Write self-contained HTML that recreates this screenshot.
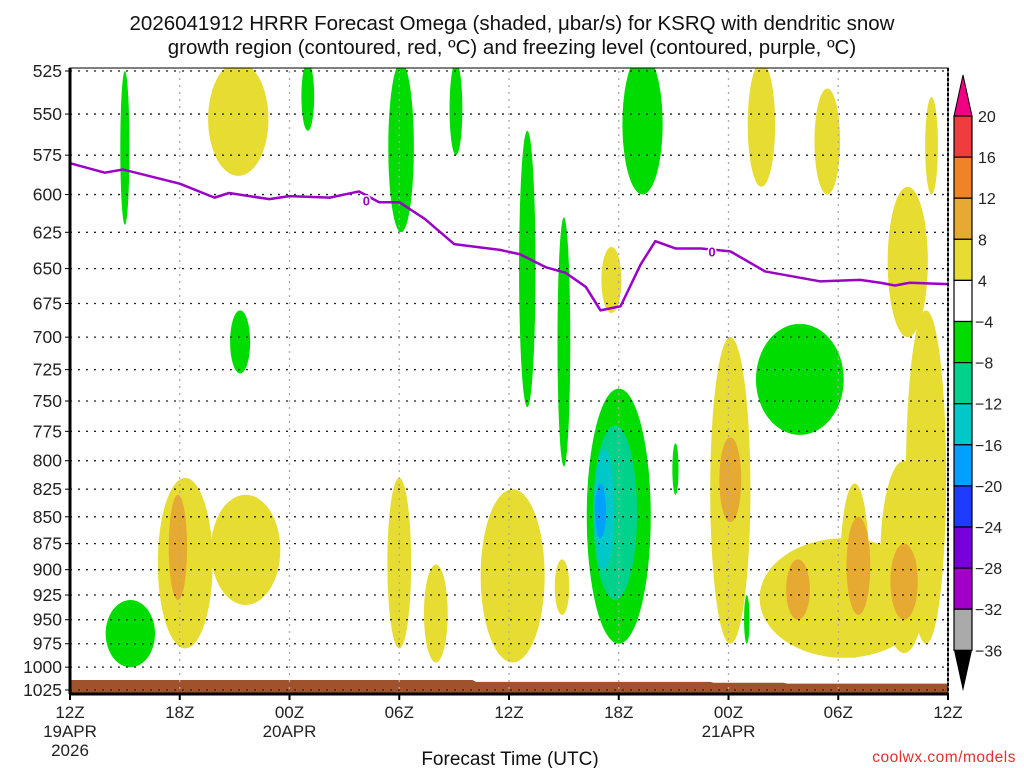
<!DOCTYPE html>
<html><head><meta charset="utf-8"><style>
html,body{margin:0;padding:0;background:#fff;width:1024px;height:768px;overflow:hidden}
svg text{font-family:"Liberation Sans",sans-serif}
</style></head><body>
<svg id="c" width="1024" height="768" viewBox="0 0 1024 768">
<text x="512" y="30" text-anchor="middle" font-size="20.5" fill="#111">2026041912 HRRR Forecast Omega (shaded, μbar/s) for KSRQ with dendritic snow</text>
<text x="512" y="54" text-anchor="middle" font-size="20.5" fill="#111">growth region (contoured, red, ºC) and freezing level (contoured, purple, ºC)</text>
<g id="fills"></g>
<g id="grid"></g>
<g id="frz"></g>
<g id="axes"></g>
<g id="cbar"></g>
<text x="510" y="765" text-anchor="middle" font-size="19" fill="#111">Forecast Time (UTC)</text>
<text x="1016" y="762" text-anchor="end" font-size="15.5" fill="#e03030" letter-spacing="0.5">coolwx.com/models</text>
</svg>
<script>
// ---- data ----
const pressureTicks=[525,550,575,600,625,650,675,700,725,750,775,800,825,850,875,900,925,950,975,1000,1025];
const timeTickHours=[0,6,12,18,24,30,36,42,48];
const timeTickLabels=["12Z","18Z","00Z","06Z","12Z","18Z","00Z","06Z","12Z"];
const timeTickSub=["19APR","","20APR","","","","21APR","",""];
const frzHours=[0,1.9,2.9,6.0,7.9,8.7,10.9,12.0,14.2,15.8,16.9,18.0,19.4,21.0,23.5,24.6,26.0,27.1,28.2,29.0,30.1,31.2,32.0,33.1,34.5,36.1,38.0,41.0,43.2,44.3,45.1,45.9,48.0];
const frzPressure=[580,586,584,593,602,599,603,601,602,598,605,605,616,633,637,640,649,653,663,680,677,647,631,636,636,638,652,659,658,660,662,660,661];
const sfcHours=[0,22,22.2,35,35.2,39,39.2,48];
const sfcPressure=[1014,1014,1016,1016,1017,1017,1018,1018];
const cbLevels=[20,16,12,8,4,-4,-8,-12,-16,-20,-24,-28,-32,-36];
const cbColors=["#f03c3c","#f08228","#e6aa32","#e6dc32","#ffffff","#00dc00","#00d28c","#00c8c8","#00a0ff","#1e3cff","#7800dc","#a000c8","#aaaaaa"];
// blobs: hour center, half-width (hours), top pressure, bottom pressure, omega value
const blobHour=[3.0,3.3,9.3,13.0,18.1,21.1,25.0,27.0,30.0,31.3,33.1,39.9,37.0, 9.2,6.3,9.6,18.0,20.0,24.2,26.9,29.6,36.1,37.8,41.4,42.3,42.9,45.6,45.8,46.8,47.1, 29.8,29.2,29.0, 5.9,36.1,39.8,43.1,45.6];
const blobHalfW=[0.25,1.35,0.55,0.35,0.7,0.35,0.45,0.35,1.75,1.1,0.17,2.4,0.15, 1.65,1.5,1.9,0.65,0.65,1.75,0.4,0.55,1.1,0.75,0.7,4.6,0.8,1.3,1.1,1.1,0.35, 1.2,0.55,0.3, 0.5,0.6,0.65,0.65,0.75];
const blobTop=[525,930,680,520,520,520,560,615,740,515,785,690,925, 520,815,830,815,895,825,890,635,700,520,535,870,820,800,595,680,540, 770,790,820, 830,780,890,850,875];
const blobBot=[620,1000,728,560,625,575,755,805,975,600,830,778,975, 588,980,935,980,995,995,945,682,975,595,600,990,990,985,700,975,600, 930,900,870, 930,855,950,945,950];
const blobVal=[-6,-6,-6,-6,-6,-6,-6,-6,-6,-6,-6,-6,-6, 6,6,6,6,6,6,6,6,6,6,6,6,6,6,6,6,6, -10,-14,-18, 10,10,10,10,10];
// ---- axes ----
const X0=70,X1=948,Y0=71,Y1=690;
const lp0=Math.log(525),lp1=Math.log(1025);
const xs=h=>X0+(h/48)*(X1-X0);
const ys=p=>Y0+(Math.log(p)-lp0)/(lp1-lp0)*(Y1-Y0);
const NS="http://www.w3.org/2000/svg";
function mk(t,a,parent){const e=document.createElementNS(NS,t);for(const k in a)e.setAttribute(k,a[k]);parent.appendChild(e);return e;}
function colorFor(v){if(v>=4&&v<8)return cbColors[3];if(v>=8&&v<12)return cbColors[2];if(v<=-4&&v>-8)return cbColors[5];if(v<=-8&&v>-12)return cbColors[6];if(v<=-12&&v>-16)return cbColors[7];if(v<=-16&&v>-20)return cbColors[8];return "#fff";}
const fills=document.getElementById('fills');
const clip=mk('clipPath',{id:'pc'},fills);mk('rect',{x:X0,y:68,width:X1-X0,height:Y1-68+4},clip);
const fg=mk('g',{'clip-path':'url(#pc)'},fills);
for(let i=0;i<blobHour.length;i++){
  const yt=ys(blobTop[i]),yb=ys(blobBot[i]);
  const e=mk('ellipse',{cx:xs(blobHour[i]),cy:(yt+yb)/2,rx:blobHalfW[i]*(X1-X0)/48,ry:(yb-yt)/2,fill:colorFor(blobVal[i])},fg);
  
  
}
// surface
let d="M"+xs(sfcHours[0])+","+(Y1+4);
for(let i=0;i<sfcHours.length;i++)d+=" L"+xs(sfcHours[i])+","+ys(sfcPressure[i]);
d+=" L"+xs(48)+","+(Y1+4)+" Z";
const sf=mk('path',{d:d,fill:"#a0522d"},fills);


// grid
const grid=document.getElementById('grid');
pressureTicks.forEach(p=>{const l=mk('line',{x1:X0,x2:X1,y1:ys(p),y2:ys(p),stroke:"#222","stroke-dasharray":"2,6","stroke-width":1.3},grid);

});
timeTickHours.slice(1,-1).forEach(h=>{const l=mk('line',{x1:xs(h),x2:xs(h),y1:Y0,y2:Y1+4,stroke:"#aaa","stroke-dasharray":"2,5","stroke-width":1.3},grid);

});
// freezing line
const frz=document.getElementById('frz');
const pts=frzHours.map((h,i)=>xs(h)+","+ys(frzPressure[i])).join(" ");
const fl=mk('polyline',{points:pts,fill:"none",stroke:"#9a00c8","stroke-width":2.5,"stroke-linejoin":"round"},frz);


[[16.2,604],[35.1,638]].forEach(a=>{const t=mk('text',{x:xs(a[0]),y:ys(a[1])+5,"font-size":13,"font-weight":"bold",fill:"#9a00c8","text-anchor":"middle",stroke:"#fff","stroke-width":3,"paint-order":"stroke"},frz);t.textContent="0";

});
// axes
const ax=document.getElementById('axes');
mk('rect',{x:X0,y:68,width:X1-X0,height:Y1+4-68,fill:"none",stroke:"#000","stroke-width":1},ax);
mk('line',{x1:X0,x2:X0,y1:68,y2:Y1+4,stroke:"#000","stroke-width":3},ax);
mk('line',{x1:X0,x2:X1,y1:Y1+4,y2:Y1+4,stroke:"#000","stroke-width":3},ax);
mk('line',{x1:X1,x2:X1,y1:68,y2:Y1+4,stroke:"#000","stroke-width":2,"stroke-dasharray":"3,2"},ax);
pressureTicks.forEach(p=>{mk('line',{x1:X0-5,x2:X0,y1:ys(p),y2:ys(p),stroke:"#000"},ax);
const t=mk('text',{x:X0-8,y:ys(p)+6,"font-size":17.5,"text-anchor":"end",fill:"#222"},ax);t.textContent=p;

});
timeTickHours.forEach((h,i)=>{mk('line',{x1:xs(h),x2:xs(h),y1:Y1+4,y2:Y1+10,stroke:"#000","stroke-width":2},ax);
const t=mk('text',{x:xs(h),y:718,"font-size":17,"text-anchor":"middle",fill:"#222"},ax);t.textContent=timeTickLabels[i];


if(timeTickSub[i]){const s=mk('text',{x:xs(h),y:737,"font-size":17,"text-anchor":"middle",fill:"#222"},ax);s.textContent=timeTickSub[i];

}});
const yr=mk('text',{x:xs(0),y:756,"font-size":17,"text-anchor":"middle",fill:"#222"},ax);yr.textContent="2026";


// colorbar
const cb=document.getElementById('cbar');
const CX0=954,CX1=972,CY0=116,CH=41.1;
mk('polygon',{points:`${CX0},${CY0} ${CX1},${CY0} ${(CX0+CX1)/2},75`,fill:"#f00082",stroke:"#000"},cb);
cbColors.forEach((c,i)=>{const r=mk('rect',{x:CX0,y:CY0+i*CH,width:CX1-CX0,height:CH,fill:c,stroke:"#000","stroke-width":1.2},cb);

});
const yb=CY0+cbColors.length*CH;
mk('polygon',{points:`${CX0},${yb} ${CX1},${yb} ${(CX0+CX1)/2},${yb+41}`,fill:"#000"},cb);
cbLevels.forEach((v,i)=>{const t=mk('text',{x:v<0?975:978,y:CY0+i*CH+6,"font-size":16,fill:"#222"},cb);t.textContent=v<0?"−"+(-v):v;

});
</script>
</body></html>
